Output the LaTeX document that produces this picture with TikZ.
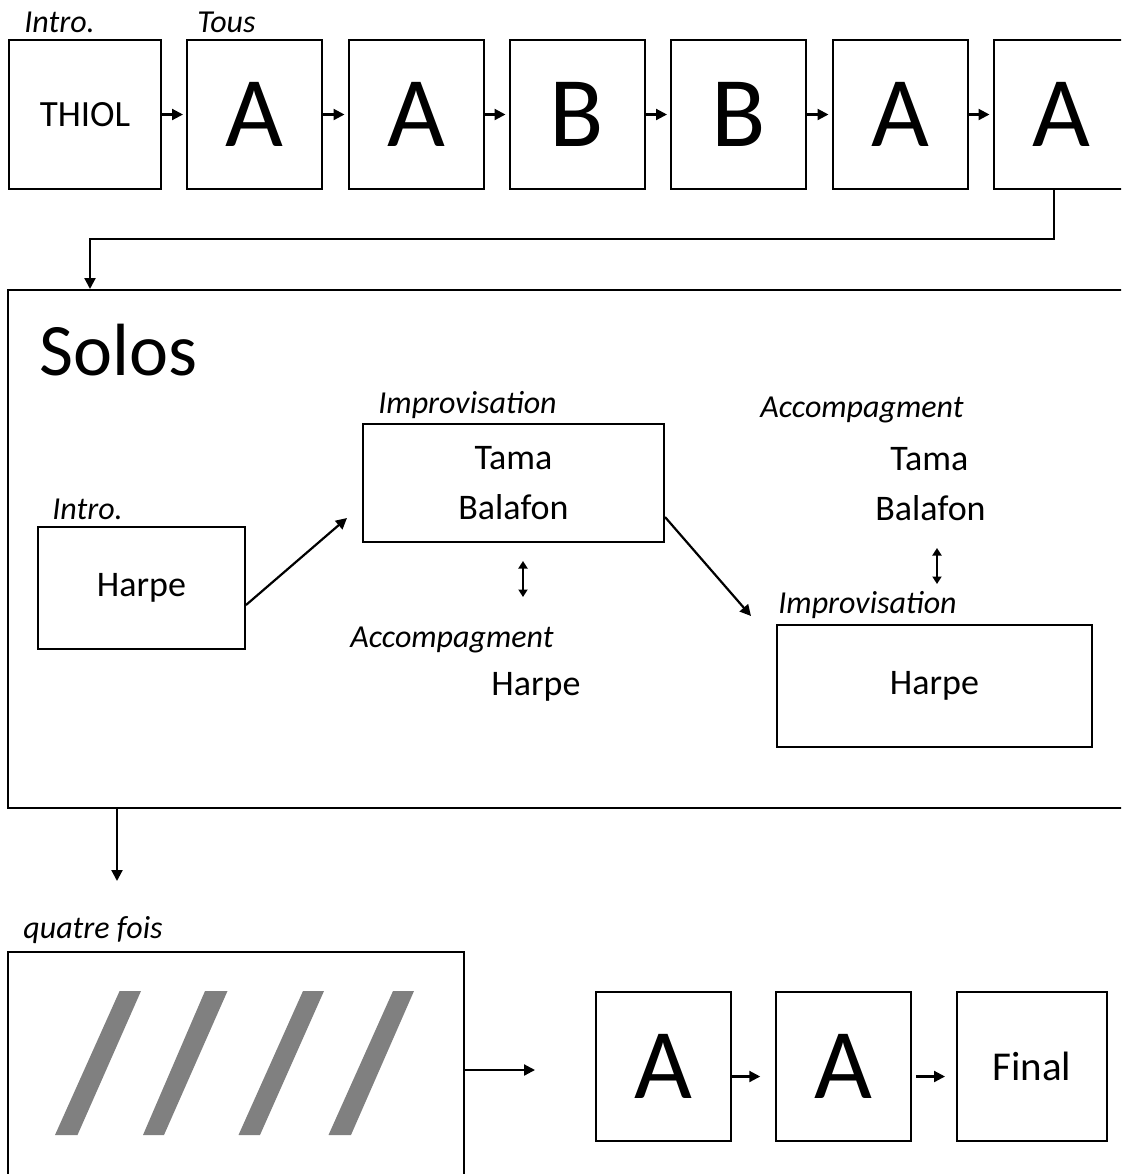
\documentclass[tikz,border=0pt]{standalone}
\usepackage{fontspec}
\setmainfont{Carlito}
\usetikzlibrary{arrows.meta}

\tikzset{
  box/.style={draw, line width=1pt, inner sep=0pt},
  bar/.style={box, minimum width=67.5pt, minimum height=74.5pt, font=\fontsize{50}{50}\selectfont},
  tag/.style={anchor=base west, inner sep=0pt, font=\fontsize{16}{16}\selectfont\itshape},
  instr/.style={anchor=base west, inner sep=0pt, font=\fontsize{18}{18}\selectfont},
  link/.style={line width=1.1pt, -{Triangle[length=5.5pt,width=5.5pt]}},
  swap/.style={line width=0.9pt, {Triangle[length=3.75pt,width=4.5pt]}-{Triangle[length=3.75pt,width=4.5pt]}},
  slash/.style={fill=gray, draw=none}
}

\begin{document}
\begin{tikzpicture}[x=0.5pt,y=-0.5pt]
\useasboundingbox (0,0) rectangle (1121,1174);
\clip (0,0) rectangle (1121,1174);

% top row
\node[box, minimum width=76pt, minimum height=74.5pt, font=\fontsize{18.5}{18.5}\selectfont] (b1) at (85,114.5) {THIOL};
\foreach \n/\x/\l in {2/254.5/A,3/416/A,4/577/B,5/738.5/B,6/900/A,7/1061/A}
{
\node[bar] (b\n) at (\x,114.5) {\l};
}
\foreach \a/\b in {1/2,2/3,3/4,4/5,5/6,6/7}
{
\draw[link] (b\a.east) -- ([xshift=-1.5pt]b\b.west);
}
\node[tag] (tIntro) at (24,32) {Intro.};
\node[tag] (tTous) at (197,32) {Tous};

% solos
\node[box, minimum width=566pt, minimum height=259pt] (solos) at (574,549) {};
\node[anchor=base west, inner sep=0pt, font=\fontsize{37}{37}\selectfont] (solosT) at (39,375) {Solos};
\coordinate (turn) at (90,239);
\draw[link] ([xshift=-3.5pt]b7.south) |- (turn) -- (turn |- solos.north);

\node[box, minimum width=103.5pt, minimum height=61pt, font=\fontsize{18}{18}\selectfont] (harpeA) at (141.5,588) {Harpe};
\node[tag] (tIntroB) at (52,519) {Intro.};

\node[box, minimum width=150.5pt, minimum height=59pt, align=center, font=\fontsize{18}{25}\selectfont] (impA) at (513.5,483) {Tama\\Balafon};
\node[tag] (tImpA) at (378,413) {Improvisation};
\node[tag] (tAccA) at (350,647) {Accompagment};
\node[instr] (harpeB) at (491,695) {Harpe};

\node[tag] (tAccB) at (760,417) {Accompagment};
\node[instr] (tamaB) at (890,470) {Tama};
\node[instr] (balB) at (875,520) {Balafon};
\node[tag] (tImpB) at (778,613) {Improvisation};
\node[box, minimum width=157.5pt, minimum height=61pt, font=\fontsize{18}{18}\selectfont] (impB) at (934.5,686) {Harpe};

\draw[link] ([yshift=-8.5pt]harpeA.east) -- ([xshift=-7.5pt,yshift=-17.5pt]impA.west);
\draw[link] ([yshift=-17pt]impA.east) -- ([xshift=-12.5pt,yshift=4pt]impB.north west);
\draw[swap] ([xshift=4.75pt,yshift=-9pt]impA.south) -- ++(0,36);
\coordinate (swapB) at (937,548);
\draw[swap] (swapB) -- ++(0,36);

% bottom row
\coordinate (drop) at (117,881);
\draw[link] (drop |- solos.south) -- (drop);
\node[tag] (tFois) at (23,938) {quatre fois};
\node[box, minimum width=227.75pt, minimum height=150pt] (fois) at (235.75,1102) {};
\foreach \tl/\tr/\bl/\br in {119.6/141/55/77.5,205/227.5/143/164,303/324/238.5/260,393/414/328.5/351}
{
\fill[slash] (\tl,991) -- (\tr,991) -- (\br,1135) -- (\bl,1135) -- cycle;
}
\node[bar] (c1) at (663,1066.5) {A};
\node[bar] (c2) at (843.75,1066.5) {A};
\node[box, minimum width=74.75pt, minimum height=74.5pt, font=\fontsize{20.5}{20.5}\selectfont] (fin) at (1031.75,1066.5) {Final};
\draw[link] ([yshift=-1.75pt]fois.east |- c1) -- ([xshift=-29.75pt,yshift=-1.75pt]c1.west);
\draw[link] ([yshift=-5pt]c1.east) -- ([xshift=-7.5pt,yshift=-5pt]c2.west);
\draw[link] ([xshift=2pt,yshift=-5pt]c2.east) -- ([xshift=-5.5pt,yshift=-5pt]fin.west);
\end{tikzpicture}
\end{document}
